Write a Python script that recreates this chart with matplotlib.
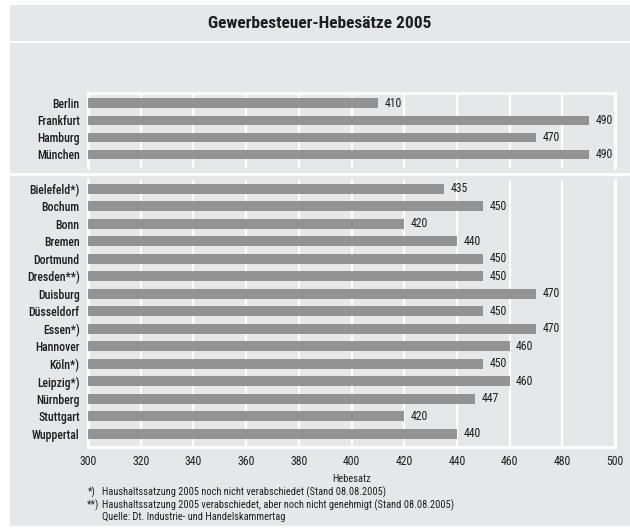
import matplotlib.pyplot as plt
from matplotlib.patches import Rectangle
from matplotlib.lines import Line2D

# Daten
staedte_oben = ['Berlin', 'Frankfurt', 'Hamburg', 'München']
werte_oben = [410, 490, 470, 490]

staedte_unten = ['Bielefeld*)', 'Bochum', 'Bonn', 'Bremen', 'Dortmund', 'Dresden**)',
                 'Duisburg', 'Düsseldorf', 'Essen*)', 'Hannover', 'Köln*)', 'Leipzig*)',
                 'Nürnberg', 'Stuttgart', 'Wuppertal']
werte_unten = [435, 450, 420, 440, 450, 450, 470, 450, 470, 460, 450, 460, 447, 420, 440]

ticks = list(range(300, 501, 20))

plt.rcParams['font.family'] = ['Roboto Condensed', 'DejaVu Sans']

W, H = 630, 531
BG = '#e6e7e9'
BAR = '#939393'
TXT = '#1e1e1e'

fig = plt.figure(figsize=(W / 100, H / 100), dpi=100)
fig.patch.set_facecolor('white')


def px(x0, y0, x1, y1):
    # Pixelrechteck (oben links Ursprung) -> Figurkoordinaten
    return [x0 / W, 1 - y1 / H, (x1 - x0) / W, (y1 - y0) / H]


# Hintergrundflächen
for box in [(10, 5, 630, 41), (10, 43, 630, 526)]:
    b = px(*box)
    fig.patches.append(Rectangle((b[0], b[1]), b[2], b[3], transform=fig.transFigure,
                                 facecolor=BG, edgecolor='none', zorder=-5))
# Trennlinie zwischen den Gruppen
fig.lines.append(Line2D([10 / W, 1], [1 - 174 / H] * 2, transform=fig.transFigure,
                        color='white', lw=2, zorder=-4))

fig.text(320 / W, 1 - 23 / H, 'Gewerbesteuer-Hebesätze 2005', ha='center', va='center',
         fontsize=12.5, fontweight='bold', color=TXT)


def zeichne(ax, namen, werte, ylim, spines):
    ax.set_facecolor('none')
    pos = list(range(len(namen)))
    ax.barh(pos, werte, height=0.56, left=0, color=BAR, zorder=3)
    ax.set_xlim(300, 500)
    ax.set_ylim(*ylim)
    ax.set_xticks(ticks)
    ax.grid(axis='x', color='white', lw=1.6, zorder=1)
    ax.set_axisbelow(True)
    ax.set_yticks(pos)
    ax.set_yticklabels(namen, fontsize=8.5, fontweight='medium', color=TXT)
    ax.tick_params(length=0, pad=6)
    for s, sp in ax.spines.items():
        sp.set_visible(s in spines)
        sp.set_color('white')
        sp.set_linewidth(2)
    for p, v in zip(pos, werte):
        ax.text(v + 2.5, p, str(v), va='center', ha='left', fontsize=8.5, color=TXT)


ax1 = fig.add_axes(px(88, 93, 615, 168))
zeichne(ax1, staedte_oben, werte_oben, (3.8, -0.6), ('top', 'left', 'right'))
ax1.set_xticklabels([])

ax2 = fig.add_axes(px(88, 180, 615, 447))
zeichne(ax2, staedte_unten, werte_unten, (14.75, -0.5), ('bottom', 'left', 'right'))
ax2.set_xticklabels([str(t) for t in ticks], fontsize=8.5, color=TXT)
ax2.tick_params(axis='x', pad=6)
ax2.set_xlabel('Hebesatz', fontsize=7.5, color=TXT, labelpad=4)

# Fußnoten
fs = 7.5
fig.text(88 / W, 1 - 492 / H, '*)', fontsize=fs, color=TXT, va='center')
fig.text(102 / W, 1 - 492 / H, 'Haushaltssatzung 2005 noch nicht verabschiedet (Stand 08.08.2005)',
         fontsize=fs, color=TXT, va='center')
fig.text(87 / W, 1 - 505 / H, '**)', fontsize=fs, color=TXT, va='center')
fig.text(102 / W, 1 - 505 / H,
         'Haushaltssatzung 2005 verabschiedet, aber noch nicht genehmigt (Stand 08.08.2005)',
         fontsize=fs, color=TXT, va='center')
fig.text(102 / W, 1 - 517 / H, 'Quelle: Dt. Industrie- und Handelskammertag',
         fontsize=fs, color=TXT, va='center')

fig.savefig('out.png', dpi=100)
